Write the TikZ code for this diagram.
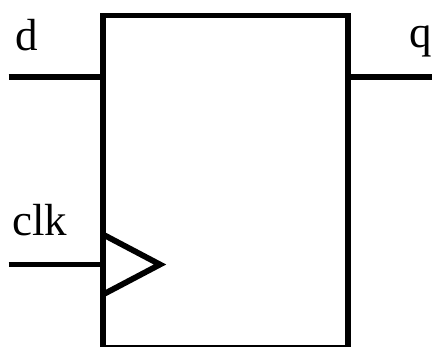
\documentclass[tikz,border=0pt]{standalone}
\usepackage{fontspec}
\setmainfont{Liberation Serif}
\tikzset{wire/.style={line width=5.8pt,black},lbl/.style={inner sep=0pt,font=\fontsize{45}{45}\selectfont,anchor=base west}}
\begin{document}
\begin{tikzpicture}[x=1pt,y=-1pt]
\useasboundingbox (0,0) rectangle (432,347);
\clip (0,0) rectangle (432,347);
\node[draw,line width=5.8pt,outer sep=0pt,minimum width=245pt,minimum height=332.5pt,inner sep=0pt,anchor=north west] (box) at (103,15.5) {};
\coordinate (dl) at (8.5,77);
\coordinate (dr) at (103,77);
\coordinate (qr) at (432,77);
\coordinate (ql) at (348,77);
\coordinate (cl) at (8.5,264.5);
\coordinate (cr) at (103,264.5);
\coordinate (t1) at (104,235);
\coordinate (t2) at (160,264.5);
\coordinate (t3) at (104,294);
\draw[wire] (dl) -- (dr);
\draw[wire] (ql) -- (qr);
\draw[wire] (cl) -- (cr);
\draw[wire] (t1) -- (t2) -- (t3);
\node[lbl] (d) at (15,51) {d};
\node[lbl] (q) at (409,47.5) {q};
\node[lbl] (clk) at (12,235.5) {clk};
\end{tikzpicture}
\end{document}
